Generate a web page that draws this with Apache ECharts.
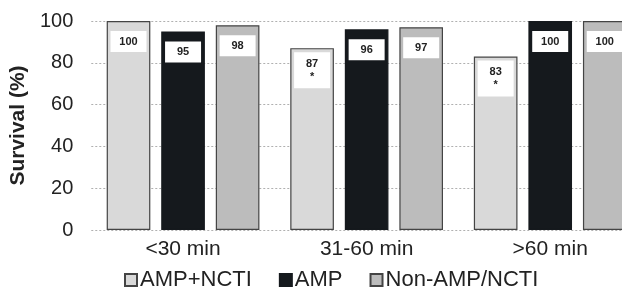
<!DOCTYPE html>
<html>
<head>
<meta charset="utf-8">
<script src="https://cdn.jsdelivr.net/npm/echarts@6/dist/echarts.min.js"></script>
<style>
  html, body { margin: 0; padding: 0; background: #fff; overflow: hidden; }
  /* the figure is cut off on the right, so the canvas runs past the window */
  #chart { width: 650px; height: 296px; }
</style>
</head>
<body>
<div id="chart"></div>
<script>
// data
const categories = ['<30 min', '31-60 min', '>60 min']
const ampNcti = [100, 87, 83]
const amp = [95, 96, 100]
const nonAmpNcti = [98, 97, 100]
const ampNctiStar = [false, true, true] // * under the value
const yTicks = [0, 20, 40, 60, 80, 100]

const chart = echarts.init(document.getElementById('chart'))

const baseLabel = {
    show: true,
    position: 'insideTop',
    distance: 10,
    backgroundColor: '#fff',
    padding: [4, 9],
    width: 18,
    align: 'center',
    fontFamily: 'Liberation Sans, Arial',
    fontWeight: 'bold',
    fontSize: 11,
    lineHeight: 13,
    color: '#222'
}

// build data items, starred bars get a second line
function items (vals, stars) {
    return vals.map((v, i) => {
        const star = stars && stars[i]
        return {
            value: v,
            label: {
                formatter: star ? v + '\n*' : String(v),
                distance: star ? 4 : 10,
                padding: star ? [5, 9] : [4, 9]
            }
        }
    })
}

const option = {
    backgroundColor: '#fff',
    animation: false,
    textStyle: { fontFamily: 'Liberation Sans, Arial' },
    grid: {
        left: 86,
        top: 21,
        width: 556,
        height: 209,
        containLabel: false
    },
    legend: {
        left: 119,
        top: 264,
        icon: 'rect',
        itemWidth: 12,
        itemHeight: 12,
        itemGap: 27,
        textStyle: { fontSize: 22, color: '#222', padding: [0, 0, 0, -2] },
        data: ['AMP+NCTI', 'AMP', 'Non-AMP/NCTI']
    },
    xAxis: {
        type: 'category',
        data: categories,
        axisLine: { show: false },
        axisTick: { show: false },
        axisLabel: { fontSize: 21, color: '#222', margin: 9 }
    },
    yAxis: {
        type: 'value',
        min: yTicks[0],
        max: yTicks[yTicks.length - 1],
        interval: 20,
        name: 'Survival (%)',
        nameLocation: 'middle',
        nameRotate: 90,
        nameGap: 52,
        nameTextStyle: { fontSize: 21, fontWeight: 'bold', color: '#222' },
        axisLine: { show: false },
        axisTick: { show: false },
        axisLabel: { fontSize: 20, color: '#222', margin: 18 },
        splitLine: { lineStyle: { color: '#b0b0b0', type: [2, 2], width: 1 } }
    },
    series: [
        {
            name: 'AMP+NCTI',
            type: 'bar',
            barGap: '25%',
            barCategoryGap: '16.8%',
            itemStyle: { color: '#d9d9d9', borderColor: '#444', borderWidth: 1.2 },
            label: baseLabel,
            data: items(ampNcti, ampNctiStar)
        },
        {
            name: 'AMP',
            type: 'bar',
            itemStyle: { color: '#15191d', borderColor: '#15191d', borderWidth: 1.2 },
            label: baseLabel,
            data: items(amp)
        },
        {
            name: 'Non-AMP/NCTI',
            type: 'bar',
            itemStyle: { color: '#bcbcbc', borderColor: '#444', borderWidth: 1.2 },
            label: baseLabel,
            data: items(nonAmpNcti)
        }
    ]
}

chart.setOption(option)
</script>
</body>
</html>
